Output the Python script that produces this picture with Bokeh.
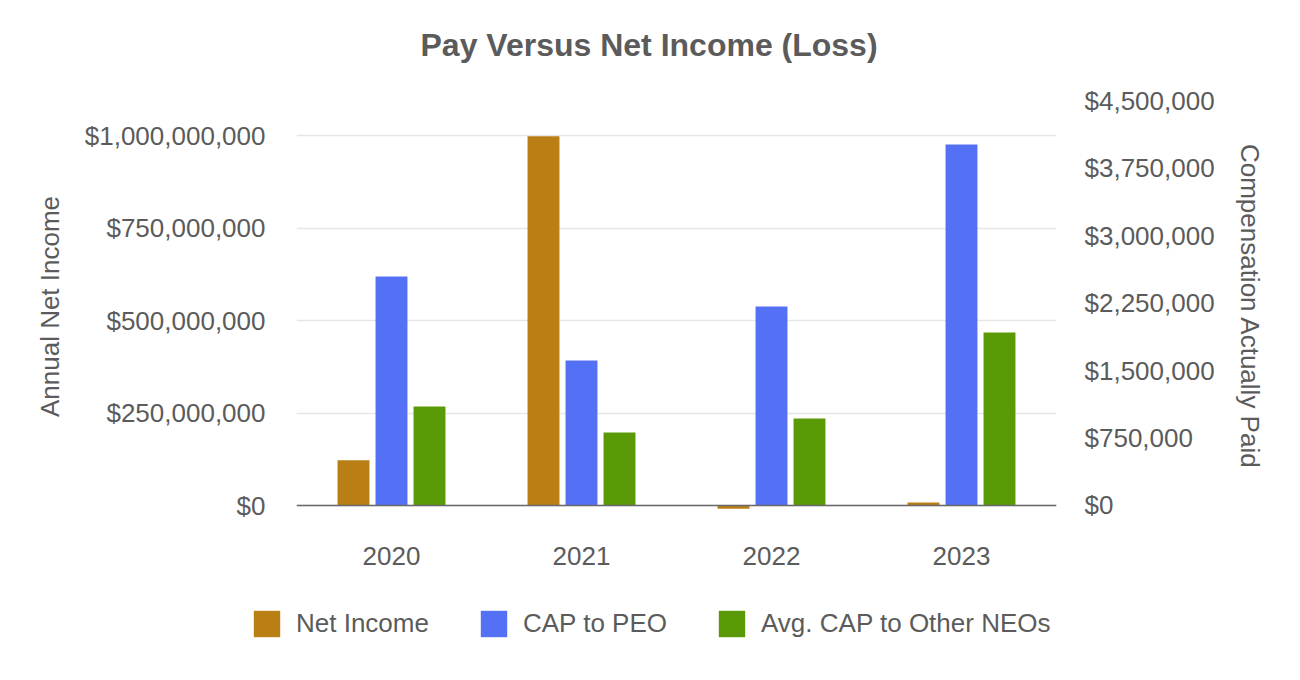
from bokeh.plotting import figure
from bokeh.layouts import column
from bokeh.models import (FactorRange, Range1d, LinearAxis, FixedTicker, Span,
                          Legend, LegendItem, ColumnDataSource, Title)
from bokeh.transform import dodge
from bokeh.embed import file_html
from bokeh.resources import INLINE

years = ["2020", "2021", "2022", "2023"]
net_income = [122_000_000, 998_000_000, -9_000_000, 8_000_000]
cap_peo = [2_544_000, 1_611_000, 2_211_000, 4_011_000]
avg_cap_neo = [1_100_000, 811_000, 967_000, 1_922_000]

left_ticks = [0, 250_000_000, 500_000_000, 750_000_000, 1_000_000_000]
left_labels = ["$0", "$250,000,000", "$500,000,000", "$750,000,000", "$1,000,000,000"]
right_ticks = [0, 750_000, 1_500_000, 2_250_000, 3_000_000, 3_750_000, 4_500_000]
right_labels = ["$0", "$750,000", "$1,500,000", "$2,250,000", "$3,000,000", "$3,750,000", "$4,500,000"]

series_names = ["Net Income", "CAP to PEO", "Avg. CAP to Other NEOs"]
colors = ["#BA7F14", "#5470F5", "#5A9A07"]

TXT = "#5b5b5b"
FONT = "Liberation Sans"

src = ColumnDataSource(dict(year=years, ni=net_income, peo=cap_peo, neo=avg_cap_neo))

p = figure(width=1300, height=590, x_range=FactorRange(*years),
           y_range=Range1d(-18_900_000, 1_094_600_000), title=None,
           output_backend="svg", toolbar_location=None,
           min_border_left=296, min_border_right=244,
           min_border_top=100, min_border_bottom=78)
p.outline_line_color = None
p.extra_y_ranges = {"right": Range1d(-77_778, 4_500_000)}

# spacer (closest to the frame) then the real title
p.add_layout(Title(text=" ", text_font=FONT, text_font_size="26px", standoff=6), "above")
p.add_layout(Title(text="Pay Versus Net Income (Loss)", align="left", offset=124,
                   text_font=FONT, text_font_size="32px", text_font_style="bold",
                   text_color=TXT, standoff=0), "above")

r1 = p.vbar(x=dodge("year", -0.2, range=p.x_range), top="ni", width=0.168,
            source=src, color=colors[0], line_color=None)
r2 = p.vbar(x=dodge("year", 0.0, range=p.x_range), top="peo", width=0.168,
            source=src, color=colors[1], line_color=None, y_range_name="right")
r3 = p.vbar(x=dodge("year", 0.2, range=p.x_range), top="neo", width=0.168,
            source=src, color=colors[2], line_color=None, y_range_name="right")

p.add_layout(Span(location=0, dimension="width", line_color="#6a6a6a", line_width=1.5))

ya = p.yaxis[0]
ya.ticker = FixedTicker(ticks=left_ticks)
ya.major_label_overrides = {t: l for t, l in zip(left_ticks, left_labels)}
ya.axis_label = "Annual Net Income"
p.ygrid.ticker = FixedTicker(ticks=left_ticks)
p.ygrid.grid_line_color = "#e6e6e6"
p.ygrid.grid_line_width = 1.5
p.xgrid.grid_line_color = None

ra = LinearAxis(y_range_name="right", ticker=FixedTicker(ticks=right_ticks),
                axis_label="Compensation Actually Paid")
ra.major_label_overrides = {t: l for t, l in zip(right_ticks, right_labels)}
p.add_layout(ra, "right")

xa = p.xaxis[0]

for ax in [ya, ra, xa]:
    ax.axis_line_color = None
    ax.major_tick_line_color = None
    ax.minor_tick_line_color = None
    ax.major_label_text_font = FONT
    ax.major_label_text_font_size = "26px"
    ax.major_label_text_color = TXT
    ax.axis_label_text_font = FONT
    ax.axis_label_text_font_size = "26px"
    ax.axis_label_text_color = TXT
    ax.axis_label_text_font_style = "normal"

ya.major_label_standoff = 25
ya.axis_label_standoff = 17
ra.major_label_standoff = 22
ra.axis_label_standoff = 17
xa.major_label_standoff = 28

# legend strip below the chart (its swatch renderers sit outside the visible range)
lg = figure(width=1300, height=90, x_range=(0, 1), y_range=(0, 1),
            x_axis_type=None, y_axis_type=None, output_backend="svg",
            toolbar_location=None, min_border=0, title=None)
try:
    lg.frame_align = False
except Exception:
    pass
lg.outline_line_color = None
lg.grid.grid_line_color = None
hidden = ColumnDataSource(dict(x=[-10.0], top=[-10.0]))
g1 = lg.vbar(x="x", top="top", width=0.1, source=hidden, color=colors[0], line_color=None)
g2 = lg.vbar(x="x", top="top", width=0.1, source=hidden, color=colors[1], line_color=None)
g3 = lg.vbar(x="x", top="top", width=0.1, source=hidden, color=colors[2], line_color=None)

legend = Legend(items=[LegendItem(label=series_names[0], renderers=[g1]),
                       LegendItem(label=series_names[1], renderers=[g2]),
                       LegendItem(label=series_names[2], renderers=[g3])],
                orientation="horizontal", location=(250, 40),
                glyph_width=33, glyph_height=33, label_height=33,
                label_standoff=13, spacing=48, padding=0, margin=0,
                label_text_font=FONT, label_text_font_size="26px",
                label_text_color=TXT, border_line_color=None,
                background_fill_alpha=0)
lg.add_layout(legend, "center")

layout = column(p, lg, spacing=0)

open("out.html", "w").write(file_html(layout, INLINE))
